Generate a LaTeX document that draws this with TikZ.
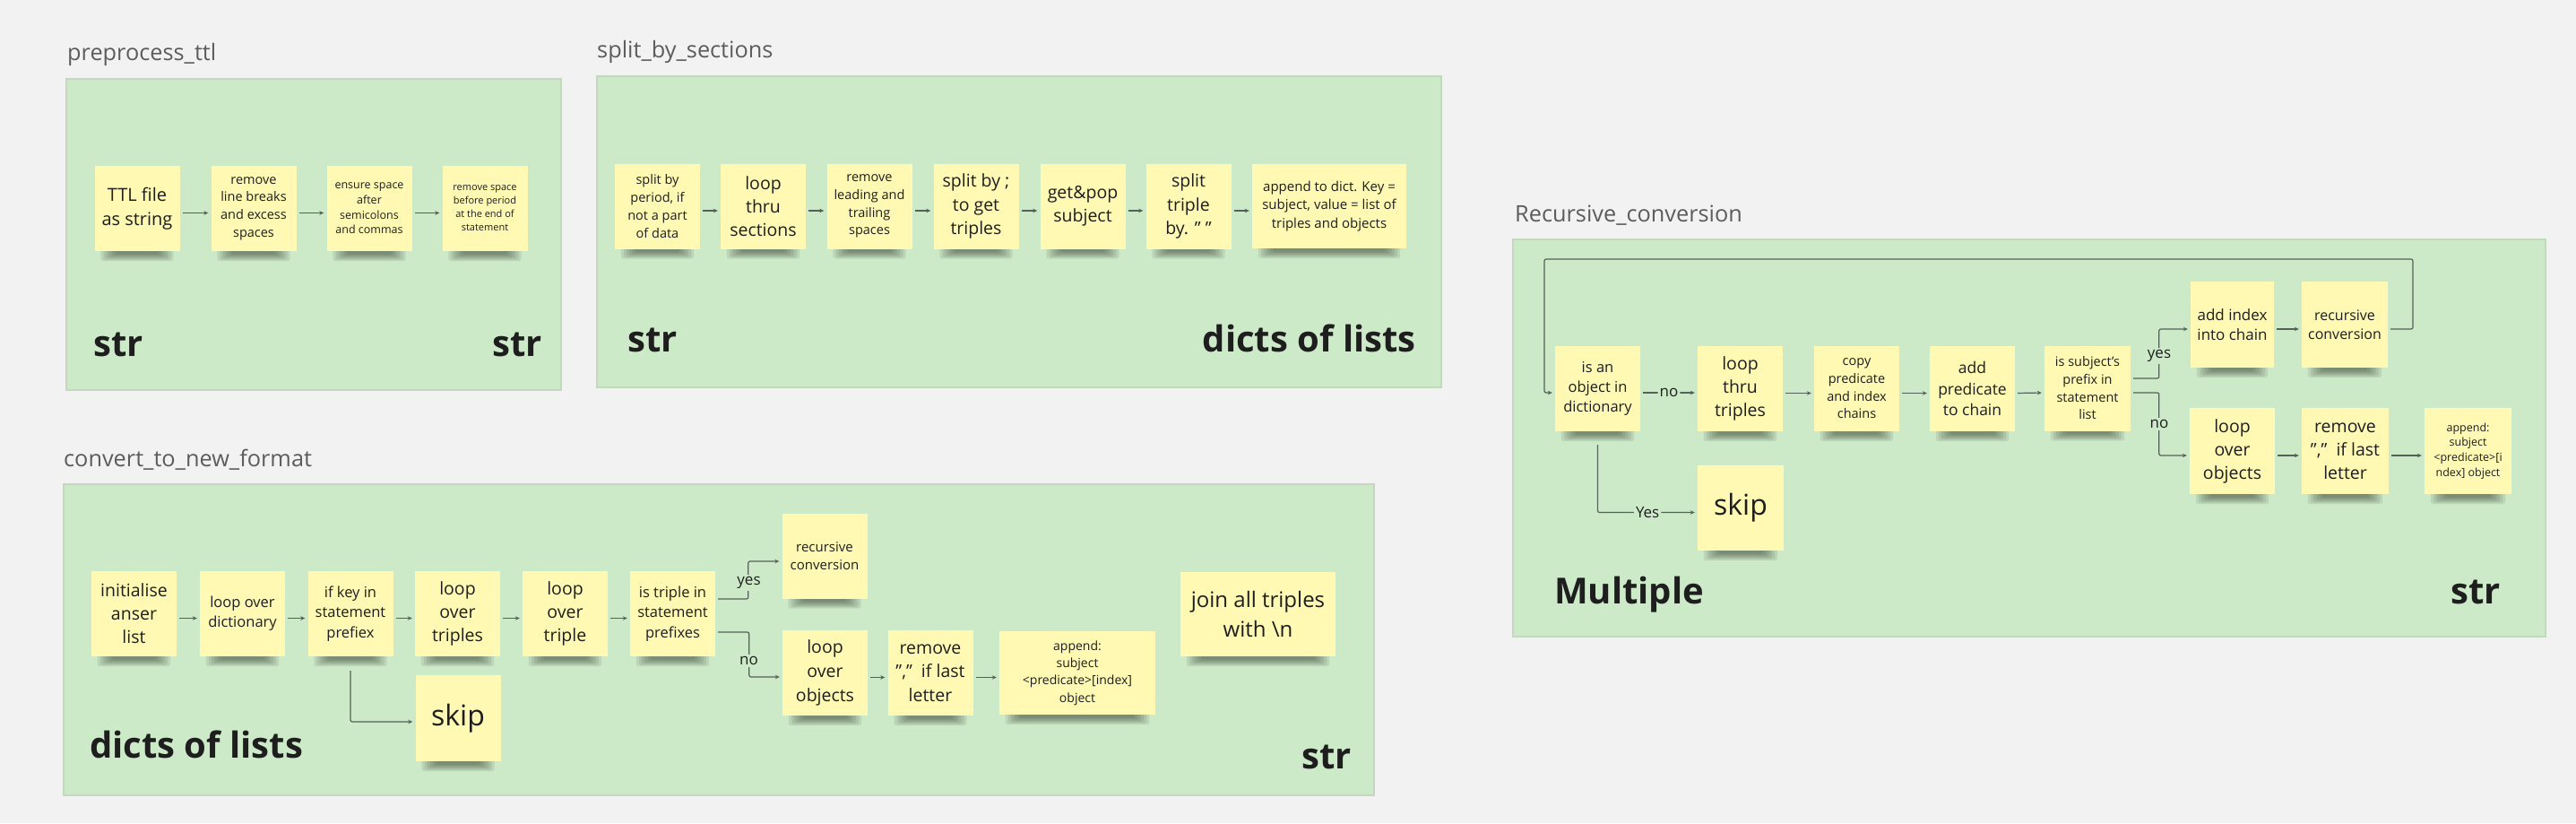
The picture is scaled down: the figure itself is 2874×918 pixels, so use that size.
\documentclass[tikz,border=0pt]{standalone}
\usepackage{fontspec}
\setmainfont{Open Sans}
\usetikzlibrary{arrows.meta}
\definecolor{bg}{HTML}{F2F2F2}
\definecolor{panel}{HTML}{CDEAC8}
\definecolor{panelborder}{HTML}{C3D8BF}
\definecolor{notefill}{HTML}{FFF9B4}
\definecolor{ink}{HTML}{1E1E1E}
\definecolor{titlec}{HTML}{5C5C5C}
\definecolor{linec}{HTML}{55605A}
\definecolor{shadowc}{HTML}{2A3326}
\pgfdeclarelayer{back}
\pgfdeclarelayer{shad}
\pgfsetlayers{back,shad,main}
\newcommand{\nshadow}[1]{\foreach \k in {0,...,5}{\fill[shadowc, opacity=0.11, rounded corners=3pt] ([xshift={7+3.2*\k}, yshift=3pt]#1.south west) rectangle ([xshift={-7-3.2*\k}, yshift={-11+1.5*\k}]#1.south east);}}
\newcommand{\chainarrow}[2]{\draw[arr] ([yshift=-5pt]#1.east) -- ([yshift=-5pt]#2.west);}
\begin{document}
\begin{tikzpicture}[x=1pt,y=-1pt,
  note/.style={fill=notefill, align=center, text=ink, inner sep=1pt, minimum width=95, minimum height=95},
  fs/.style 2 args={font=\fontsize{#1}{#2}\selectfont},
  arr/.style={draw=linec, line width=1.2pt, rounded corners=2pt, shorten <=3pt, shorten >=3pt, -{Stealth[length=5pt,width=4.5pt]}},
  lbl/.style={fill=panel, inner sep=2pt, text=ink, font=\fontsize{17}{20}\selectfont},
  big/.style={font=\fontsize{40}{48}\selectfont\bfseries, text=ink, inner sep=0pt},
  ttl/.style={font=\fontsize{25.3}{30}\selectfont, text=titlec, inner sep=0pt, anchor=west},
  pan/.style={fill=panel, draw=panelborder, line width=1.5pt}]
\begin{pgfonlayer}{back}
\fill[bg] (0,0) rectangle (2874,918);
% ---------- panels ----------
\filldraw[pan] (74,88) rectangle (626,435);
\filldraw[pan] (666,85) rectangle (1608,432);
\filldraw[pan] (71,540) rectangle (1533,887);
\filldraw[pan] (1688,267) rectangle (2840,710);
\end{pgfonlayer}
\useasboundingbox (0,0) rectangle (2874,918);

% ---------- titles ----------
\node[ttl] (t1) at (75,61) {preprocess\_ttl};
\node[ttl] (t2) at (666,58) {split\_by\_sections};
\node[ttl] (t3) at (71,513) {convert\_to\_new\_format};
\node[ttl] (t4) at (1690,240) {Recursive\_conversion};

% ---------- preprocess_ttl ----------
\node[note, fs={20}{27}] (p1) at (153,232.5) {TTL file\\as string};
\node[note, fs={14.5}{19.7}] (p2) at (283,232.5) {remove\\line breaks\\and excess\\spaces};
\node[note, fs={12.5}{16.7}] (p3) at (412,232.5) {ensure space\\after\\semicolons\\and commas};
\node[note, fs={11}{15}] (p4) at (541,232.5) {remove space\\before period\\at the end of\\statement};
\chainarrow{p1}{p2}
\chainarrow{p2}{p3}
\chainarrow{p3}{p4}
\node[big, anchor=base west] (pin) at (104,397) {str};
\node[big, anchor=base east] (pout) at (605,397) {str};

% ---------- split_by_sections ----------
\node[note, fs={14.5}{19.8}] (s1) at (733.5,230) {split by\\period, if\\not a part\\of data};
\node[note, fs={19.5}{26.3}] (s2) at (851.5,230) {loop\\thru\\sections};
\node[note, fs={14.5}{19.7}] (s3) at (970,230) {remove\\leading and\\trailing\\spaces};
\node[note, fs={19.5}{26.3}] (s4) at (1089,230) {split by ;\\to get\\triples};
\node[note, fs={19.5}{26.3}] (s5) at (1208,230) {get\&pop\\subject};
\node[note, fs={19.5}{26.3}] (s6) at (1326,230) {split\\triple\\by. \symbol{"22} \symbol{"22}};
\node[note, fs={15}{20.8}, minimum width=172, minimum height=94] (s7) at (1483,230) {append to dict. Key =\\subject, value = list of\\triples and objects};
\chainarrow{s1}{s2}
\chainarrow{s2}{s3}
\chainarrow{s3}{s4}
\chainarrow{s4}{s5}
\chainarrow{s5}{s6}
\chainarrow{s6}{s7}
\node[big, anchor=base west] (sin) at (700,392) {str};
\node[big, anchor=base east] (sout) at (1580,392) {dicts of lists};

% ---------- convert_to_new_format ----------
\node[note, fs={19.5}{26}] (c1) at (149.5,684.5) {initialise\\anser\\list};
\node[note, fs={16.5}{22.3}] (c2) at (270.5,684.5) {loop over\\dictionary};
\node[note, fs={16.5}{22.5}] (c3) at (391,684.5) {if key in\\statement\\prefiex};
\node[note, fs={19.5}{26}] (c4) at (510.5,684.5) {loop\\over\\triples};
\node[note, fs={19.5}{26}] (c5) at (630.5,684.5) {loop\\over\\triple};
\node[note, fs={16.5}{22.5}] (c6) at (750.5,684.5) {is triple in\\statement\\prefixes};
\node[note, fs={32}{38}, minimum height=96] (cskip) at (511,801) {skip};
\node[note, fs={15}{20.7}] (crec) at (920,620) {recursive\\conversion};
\node[note, fs={19.5}{26.7}] (cobj) at (920.5,750.5) {loop\\over\\objects};
\node[note, fs={19.5}{26.7}] (crem) at (1038,750.5) {remove\\\symbol{"22},\symbol{"22}\ \ if last\\letter};
\node[note, fs={14}{19.3}, minimum width=174, minimum height=93] (capp) at (1202,750.5) {append:\\subject\\<predicate>[index]\\object};
\node[note, fs={24}{33}, minimum width=173, minimum height=94] (cjoin) at (1403.5,685) {join all triples\\with \textbackslash n};
\chainarrow{c1}{c2}
\chainarrow{c2}{c3}
\chainarrow{c3}{c4}
\chainarrow{c4}{c5}
\chainarrow{c5}{c6}
\chainarrow{cobj}{crem}
\chainarrow{crem}{capp}
\draw[arr] ([yshift=-13pt]c3.south) |- ([yshift=-4pt]cskip.west);
\draw[arr] ([yshift=16.5pt]c6.east) -| ([xshift=-37.5pt,yshift=-6pt]crec.west) -- ([yshift=-6pt]crec.west);
\draw[arr] ([yshift=-20.5pt]c6.east) -| ([xshift=-37pt,yshift=-4.5pt]cobj.west) -- ([yshift=-4.5pt]cobj.west);
\node[lbl] (cyes) at (835.5,650) {yes};
\node[lbl] (cno) at (835.5,737) {no};
\node[big, anchor=base west] (cin) at (100,845) {dicts of lists};
\node[big, anchor=base east] (cout) at (1508,857) {str};

% ---------- Recursive_conversion ----------
\node[note, fs={16.5}{22.2}] (r1) at (1782.5,433.5) {is an\\object in\\dictionary};
\node[note, fs={19.5}{26}] (r2) at (1941.5,433.5) {loop\\thru\\triples};
\node[note, fs={14.5}{19.7}] (r3) at (2071.5,433.5) {copy\\predicate\\and index\\chains};
\node[note, fs={17.5}{23.8}] (r4) at (2200.5,433.5) {add\\predicate\\to chain};
\node[note, fs={14.5}{19.7}, minimum width=96] (r5) at (2329,433) {is subject's\\prefix in\\statement\\list};
\node[note, fs={17}{22.7}, minimum width=93, minimum height=96] (ra) at (2490.5,362) {add index\\into chain};
\node[note, fs={16}{21.3}, minimum width=96, minimum height=96] (rb) at (2616,362) {recursive\\conversion};
\node[note, fs={19.5}{26}, minimum height=96] (rc) at (2490.5,503) {loop\\over\\objects};
\node[note, fs={19.5}{26}, minimum width=97, minimum height=96] (rd) at (2616.5,503) {remove\\\symbol{"22},\symbol{"22}\ \ if last\\letter};
\node[note, fs={12.5}{16.7}, minimum width=97, minimum height=96] (re) at (2753.5,503) {append:\\subject\\<predicate>[i\\ndex] object};
\node[note, fs={32}{38}, minimum width=96] (rskip) at (1942,566.5) {skip};
\coordinate (loopR) at (2692,289);
\coordinate (loopL) at (1723,289);
\draw[arr] ([yshift=-5pt]rb.east) -| (loopR) -- (loopL) |- ([yshift=-4.5pt]r1.west);
\draw[arr] ([yshift=-4.5pt]r1.east) -- node[lbl, midway] (rno) {no} ([yshift=-4.5pt]r2.west);
\chainarrow{r2}{r3}
\chainarrow{r3}{r4}
\chainarrow{r4}{r5}
\draw[arr] ([yshift=-12pt]r1.south) |- node[lbl, pos=0.75] (ryes) {Yes} ([yshift=-5pt]rskip.west);
\draw[arr] ([yshift=11pt]r5.east) -| ([xshift=-35pt,yshift=-5pt]ra.west) -- ([yshift=-5pt]ra.west);
\draw[arr] ([yshift=-5pt]r5.east) -| ([xshift=-34pt,yshift=-5pt]rc.west) -- ([yshift=-5pt]rc.west);
\node[lbl] (ryes2) at (2409,397) {yes};
\node[lbl] (rno2) at (2409,473) {no};
\chainarrow{ra}{rb}
\chainarrow{rc}{rd}
\chainarrow{rd}{re}
\node[big, anchor=base west] (rin) at (1734,673) {Multiple};
\node[big, anchor=base east] (rout) at (2790,673) {str};

% ---------- note shadows ----------
\begin{pgfonlayer}{shad}
\foreach \n in {p1,p2,p3,p4,s1,s2,s3,s4,s5,s6,s7,c1,c2,c3,c4,c5,c6,cskip,crec,cobj,crem,capp,cjoin,r1,r2,r3,r4,r5,ra,rb,rc,rd,re,rskip}{\nshadow{\n}}
\end{pgfonlayer}
\end{tikzpicture}
\end{document}
